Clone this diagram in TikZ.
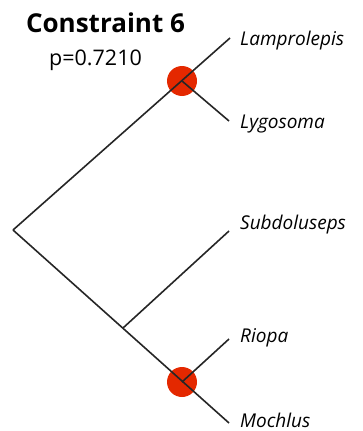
\documentclass[tikz,border=0pt]{standalone}
\usepackage{fontspec}
\setmainfont{Open Sans}
\definecolor{dotred}{HTML}{E42800}
\begin{document}
\begin{tikzpicture}[x=1pt,y=-1pt,
  branch/.style={line width=1.6pt, draw=black!85},
  taxon/.style={anchor=base west, inner sep=0pt, font=\fontsize{19}{21}\selectfont\itshape},
  dot/.style={circle, fill=dotred, minimum size=30pt, inner sep=0pt}]
\useasboundingbox (0,0) rectangle (362,431);
\coordinate (root) at (13,230);
\coordinate (n1) at (182,81);
\coordinate (n2) at (123,328);
\coordinate (n3) at (182,382);
\coordinate (tLam) at (230,38);
\coordinate (tLyg) at (229,121);
\coordinate (tSub) at (229,231);
\coordinate (tRio) at (229,339);
\coordinate (tMoc) at (229,423);
\node[dot] (d1) at (n1) {};
\node[dot] (d2) at (n3) {};
\draw[branch] (root) -- (tLam);
\draw[branch] (n1) -- (tLyg);
\draw[branch] (root) -- (tMoc);
\draw[branch] (n2) -- (tSub);
\draw[branch] (n3) -- (tRio);
\node[taxon] (lLam) at (240,45) {Lamprolepis};
\node[taxon] (lLyg) at (240,128) {Lygosoma};
\node[taxon] (lSub) at (240,229) {Subdoluseps};
\node[taxon] (lRio) at (240,342) {Riopa};
\node[taxon] (lMoc) at (240,427.5) {Mochlus};
\node[anchor=base, inner sep=0pt, font=\fontsize{26}{28}\selectfont\bfseries] (title) at (105.5,32) {Constraint 6};
\node[anchor=base, inner sep=0pt, font=\fontsize{21.5}{23}\selectfont] (pval) at (95.5,65) {p=0.7210};
\end{tikzpicture}
\end{document}
